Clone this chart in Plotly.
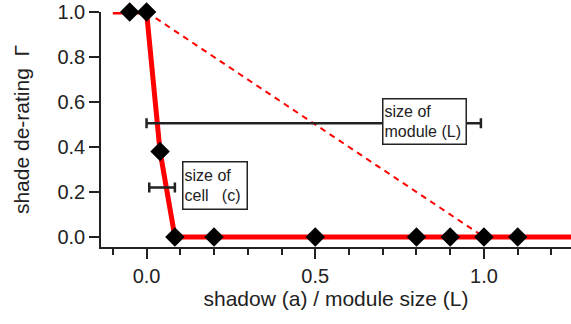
import plotly.graph_objects as go

# measured points (diamonds)
meas_x = [-0.05, 0.0, 0.04, 0.084, 0.2, 0.5, 0.8, 0.9, 1.0, 1.1]
meas_y = [1.0, 1.0, 0.38, 0.0, 0.0, 0.0, 0.0, 0.0, 0.0, 0.0]

# model curve (thick red)
model_x = [-0.1, 0.0, 0.04, 0.084, 1.3]
model_y = [1.0, 1.0, 0.38, 0.0, 0.0]

# linear reference (dashed red)
lin_x = [0.0, 1.0]
lin_y = [1.0, 0.0]

# size bars: center, half width, y
module_bar = dict(x=0.4955, half=0.4955, y=0.505)
cell_bar = dict(x=0.046, half=0.038, y=0.22)

FONT = "Liberation Sans, Arial, sans-serif"
TXT = "#222222"

fig = go.Figure()
fig.add_trace(go.Scatter(x=lin_x, y=lin_y, mode="lines",
                         line=dict(color="#ff0000", width=2, dash="6px,5px"),
                         hoverinfo="skip"))
fig.add_trace(go.Scatter(x=model_x, y=model_y, mode="lines",
                         line=dict(color="#ff0000", width=5),
                         hoverinfo="skip"))
for b in (module_bar, cell_bar):
    fig.add_trace(go.Scatter(x=[b["x"]], y=[b["y"]], mode="markers",
                             marker=dict(size=1, color="rgba(0,0,0,0)"),
                             error_x=dict(type="data", array=[b["half"]], symmetric=True,
                                          color="#222222", thickness=2.5, width=5)))
fig.add_trace(go.Scatter(x=meas_x, y=meas_y, mode="markers",
                         marker=dict(symbol="diamond", size=15, color="black",
                                     line=dict(width=0)),
                         cliponaxis=False))

fig.add_annotation(x=0.823, y=0.513, xref="x", yref="y", showarrow=False,
                   text="size of<br>module (L)", align="left",
                   width=80, height=42, borderpad=1, borderwidth=1.5,
                   bordercolor="#222222", bgcolor="white",
                   font=dict(family=FONT, size=16, color=TXT))
fig.add_annotation(x=0.2036, y=0.228, xref="x", yref="y", showarrow=False,
                   text="size of<br>cell\u00a0\u00a0\u00a0(c)", align="left",
                   width=61, height=44, borderpad=1, borderwidth=1.5,
                   bordercolor="#222222", bgcolor="white",
                   font=dict(family=FONT, size=16, color=TXT))

fig.update_layout(
    width=571, height=324,
    margin=dict(l=101, r=0, t=12, b=77),
    paper_bgcolor="white", plot_bgcolor="white",
    showlegend=False,
    font=dict(family=FONT, color=TXT),
)
fig.update_xaxes(
    automargin=False,
    range=[-0.135, 1.258],
    tickvals=[0.0, 0.5, 1.0], ticktext=["0.0", "0.5", "1.0"],
    ticks="outside", ticklen=10, tickwidth=1.5, tickcolor="#222222",
    minor=dict(tickvals=[-0.1, 0.1, 0.2, 0.3, 0.4, 0.6, 0.7, 0.8, 0.9, 1.1, 1.2],
               ticks="outside", ticklen=6, tickwidth=1.5, tickcolor="#222222"),
    showline=True, linecolor="#222222", linewidth=1.5,
    showgrid=False, zeroline=False,
    tickfont=dict(size=20, family=FONT, color=TXT),
    title=dict(text="shadow (a) / module size (L)", font=dict(size=21, family=FONT, color=TXT),
               standoff=6),
)
fig.update_yaxes(
    automargin=False,
    range=[-0.0445, 1.0],
    tickvals=[0.0, 0.2, 0.4, 0.6, 0.8, 1.0],
    ticktext=["0.0", "0.2", "0.4", "0.6", "0.8", "1.0"],
    ticks="outside", ticklen=10, tickwidth=1.5, tickcolor="#222222",
    showline=True, linecolor="#222222", linewidth=1.5,
    showgrid=False, zeroline=False,
    tickfont=dict(size=20, family=FONT, color=TXT),
    title=dict(text="shade de-rating\u00a0\u00a0Γ", font=dict(size=21, family=FONT, color=TXT),
               standoff=22),
)

fig.write_html("out.html", config={"displayModeBar": False},
               post_script="document.body.style.margin='0';")
